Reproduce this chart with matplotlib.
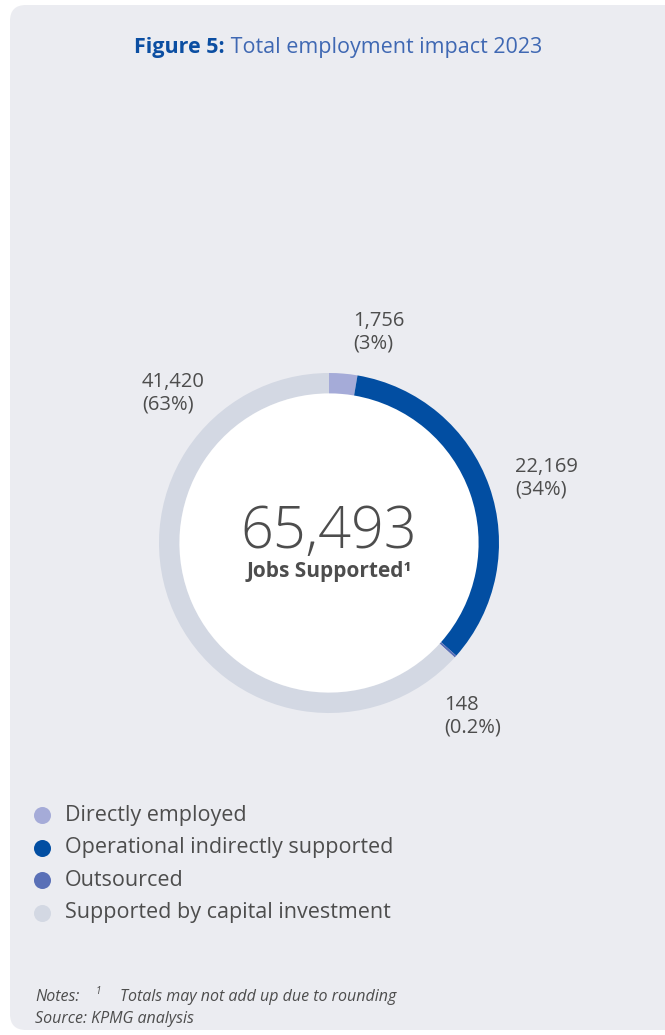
import matplotlib.pyplot as plt
from matplotlib.patches import FancyBboxPatch

plt.rcParams['font.family'] = ['Open Sans', 'DejaVu Sans']

# employment breakdown, 2023
categories = ['Directly employed', 'Operational indirectly supported',
              'Outsourced', 'Supported by capital investment']
jobs = [1756, 22169, 148, 41420]
shares = ['3%', '34%', '0.2%', '63%']
colors = ['#a5abd8', '#024ea2', '#5a70b7', '#d3d8e3']
total_jobs = 65493

text_col = '#4d4d4d'
W, H = 665, 1035

fig = plt.figure(figsize=(W / 100, H / 100), dpi=100)
fig.patch.set_facecolor('white')

# page-space axes (pixels, y downwards) for panel, title, legend and notes
bg = fig.add_axes([0, 0, 1, 1])
bg.set_xlim(0, W)
bg.set_ylim(H, 0)
bg.axis('off')

panel = FancyBboxPatch((10, 5), 700, 1025, boxstyle='round,pad=0,rounding_size=16',
                       facecolor='#ebecf1', edgecolor='none')
bg.add_patch(panel)

t1 = bg.text(134, 47, 'Figure 5:', color='#0b4ea2', fontsize=15.5, fontweight='bold',
             ha='left', va='center')
bg.annotate(' Total employment impact 2023', xy=(1, 0), xycoords=t1, va='bottom',
            ha='left', color='#3f68b3', fontsize=15.5)

# legend
for i, (lab, col) in enumerate(zip(categories, colors)):
    y = 815 + i * 32.5
    bg.scatter([42], [y], s=150, color=col, linewidths=0)
    bg.text(65, y, lab, color=text_col, fontsize=15.5, ha='left', va='center')

# notes
bg.text(35, 997, 'Notes:', color=text_col, fontsize=11.5, style='italic',
        ha='left', va='center')
bg.text(96, 991, '1', color=text_col, fontsize=7, style='italic', ha='left', va='center')
bg.text(120, 997, 'Totals may not add up due to rounding', color=text_col,
        fontsize=11.5, style='italic', ha='left', va='center')
bg.text(35, 1019, 'Source: KPMG analysis', color=text_col, fontsize=11.5,
        style='italic', ha='left', va='center')

# donut: centre (329, 543) px, outer radius 170 px
cx, cy, R = 329, 543, 170
lim = 1.25
ax = fig.add_axes([(cx - R * lim) / W, 1 - (cy + R * lim) / H,
                   2 * R * lim / W, 2 * R * lim / H])
ax.pie(jobs, colors=colors, startangle=90, counterclock=False,
       wedgeprops=dict(width=0.12, edgecolor='none'))
ax.add_patch(plt.Circle((0, 0), 0.88, color='white', zorder=0))
ax.set_xlim(-lim, lim)
ax.set_ylim(-lim, lim)
ax.set_aspect('equal')

# value labels around the ring
label_pos = [(0.141, 1.24), (1.094, 0.38), (0.68, -1.02), (-1.10, 0.88)]
for (x, y), v, s in zip(label_pos, jobs, shares):
    ax.text(x, y, f'{v:,}\n({s})', color=text_col, fontsize=14.5, ha='left',
            va='center', linespacing=1.2, clip_on=False)

ax.text(0, 0.06, f'{total_jobs:,}', color=text_col, fontsize=41.5, ha='center',
        va='center', fontweight='light')
ax.text(0, -0.17, 'Jobs Supported\u00b9', color=text_col, fontsize=15,
        fontweight='bold', ha='center', va='center')

fig.savefig('out.png', dpi=100, facecolor=fig.get_facecolor())
